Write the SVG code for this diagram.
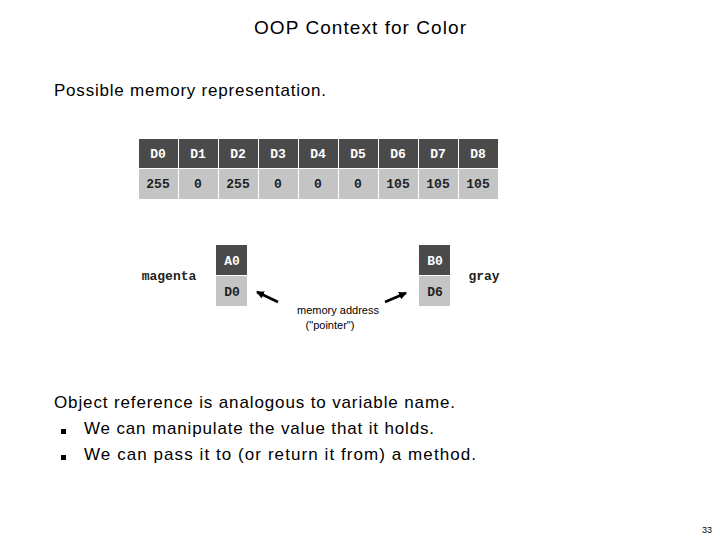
<svg xmlns="http://www.w3.org/2000/svg" width="720" height="540" viewBox="0 0 720 540">
<style>
.t{font-family:"Liberation Sans",sans-serif;fill:#000}
.m{font-family:"Liberation Mono",monospace;font-weight:bold;font-size:13px;text-anchor:middle}
.hw{fill:#fff}.vb{fill:#222}
</style>
<defs><marker id="a" markerWidth="8" markerHeight="8" refX="7" refY="4" orient="auto" markerUnits="userSpaceOnUse"><path d="M0,0L8,4L0,8z" fill="#000"/></marker></defs>
<rect width="720" height="540" fill="#fff"/>
<text class="t" x="254" y="34" font-size="19" textLength="212" lengthAdjust="spacing">OOP Context for Color</text>
<text class="t" x="54" y="96" font-size="17" textLength="272" lengthAdjust="spacing">Possible memory representation.</text>
<g id="memory">
<g fill="#4a4a4a"><rect x="139" y="139" width="39" height="29"/><rect x="179" y="139" width="39" height="29"/><rect x="219" y="139" width="39" height="29"/><rect x="259" y="139" width="39" height="29"/><rect x="299" y="139" width="39" height="29"/><rect x="339" y="139" width="39" height="29"/><rect x="379" y="139" width="39" height="29"/><rect x="419" y="139" width="39" height="29"/><rect x="459" y="139" width="39" height="29"/></g>
<g fill="#c4c4c4"><rect x="139" y="169" width="39" height="30"/><rect x="179" y="169" width="39" height="30"/><rect x="219" y="169" width="39" height="30"/><rect x="259" y="169" width="39" height="30"/><rect x="299" y="169" width="39" height="30"/><rect x="339" y="169" width="39" height="30"/><rect x="379" y="169" width="39" height="30"/><rect x="419" y="169" width="39" height="30"/><rect x="459" y="169" width="39" height="30"/></g>
<g class="m hw"><text x="158" y="158">D0</text><text x="198" y="158">D1</text><text x="238" y="158">D2</text><text x="278" y="158">D3</text><text x="318" y="158">D4</text><text x="358" y="158">D5</text><text x="398" y="158">D6</text><text x="438" y="158">D7</text><text x="478" y="158">D8</text></g>
<g class="m vb"><text x="158" y="188">255</text><text x="198" y="188">0</text><text x="238" y="188">255</text><text x="278" y="188">0</text><text x="318" y="188">0</text><text x="358" y="188">0</text><text x="398" y="188">105</text><text x="438" y="188">105</text><text x="478" y="188">105</text></g>
</g>
<g id="magenta">
<text class="m vb" x="169" y="280">magenta</text>
<rect x="216" y="245" width="31" height="30" fill="#4a4a4a"/><rect x="216" y="276" width="31" height="30" fill="#c4c4c4"/>
<text class="m hw" x="232" y="265">A0</text><text class="m vb" x="232" y="296">D0</text>
</g>
<g id="gray">
<text class="m vb" x="484" y="280">gray</text>
<rect x="419" y="245" width="31" height="30" fill="#4a4a4a"/><rect x="419" y="276" width="31" height="30" fill="#c4c4c4"/>
<text class="m hw" x="435" y="265">B0</text><text class="m vb" x="435" y="296">D6</text>
</g>
<g id="connectors" stroke="#000" stroke-width="2.5">
<line x1="278" y1="302" x2="257" y2="292" marker-end="url(#a)"/>
<line x1="385" y1="302" x2="406" y2="293" marker-end="url(#a)"/>
</g>
<text class="t" x="338" y="314" font-size="11" text-anchor="middle" fill="#333">memory address</text>
<text class="t" x="330" y="329" font-size="11" text-anchor="middle" fill="#333">("pointer")</text>
<text class="t" x="54" y="408" font-size="17" textLength="401" lengthAdjust="spacing">Object reference is analogous to variable name.</text>
<rect x="61" y="429" width="5" height="5" fill="#000"/><text class="t" x="84" y="434" font-size="17" textLength="350" lengthAdjust="spacing">We can manipulate the value that it holds.</text>
<rect x="61" y="455" width="5" height="5" fill="#000"/><text class="t" x="84" y="460" font-size="17" textLength="392" lengthAdjust="spacing">We can pass it to (or return it from) a method.</text>
<text class="t" x="712" y="533" font-size="9" text-anchor="end">33</text>
</svg>
